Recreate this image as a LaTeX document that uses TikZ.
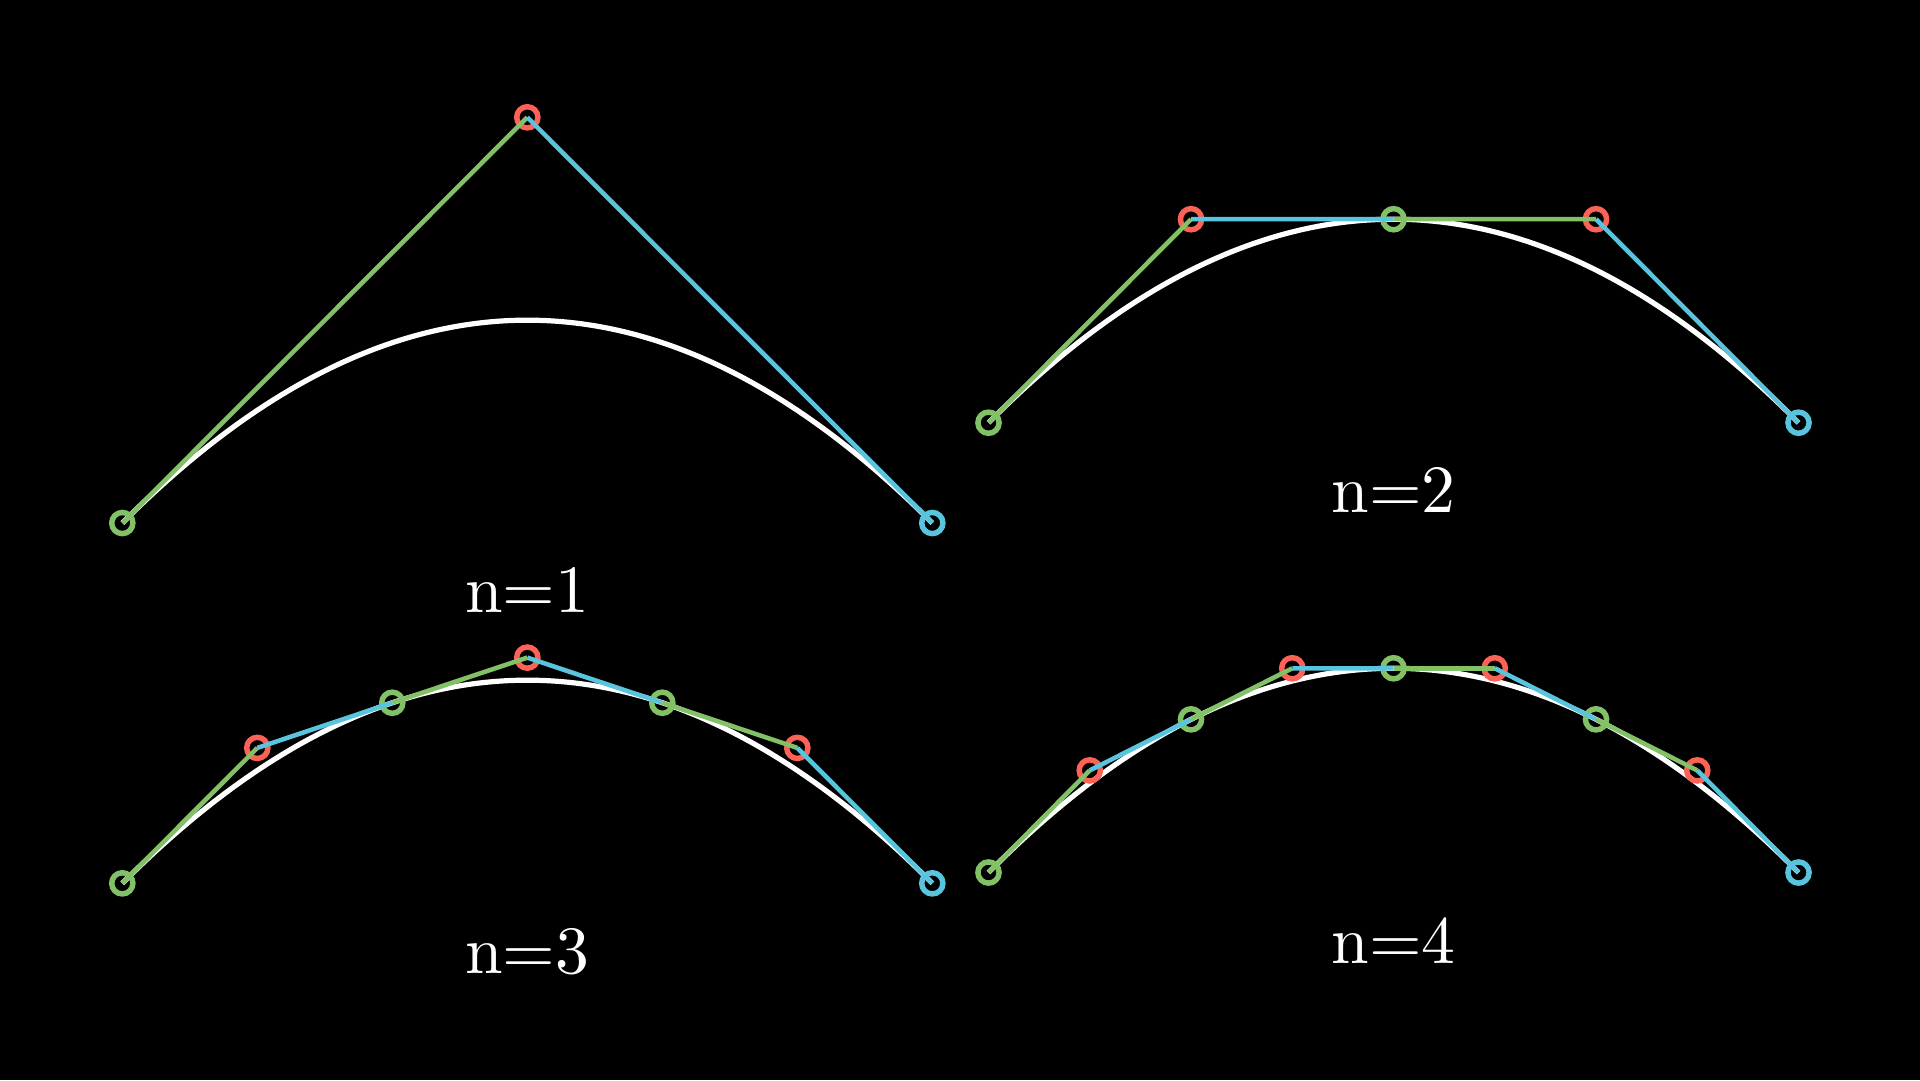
\documentclass[tikz,border=0pt]{standalone}
\usepackage{fontspec}
\usetikzlibrary{calc}
\definecolor{mgreen}{HTML}{83C167}
\definecolor{mblue}{HTML}{58C4DD}
\definecolor{mred}{HTML}{FC6255}
\tikzset{
  curve/.style={draw=white, line width=0.78pt},
  ring/.style={circle, draw=#1, line width=0.82pt, minimum size=3.18pt, inner sep=0pt},
  seggreen/.style={draw=mgreen, line width=0.68pt},
  segblue/.style={draw=mblue, line width=0.68pt},
  lbl/.style={text=white, anchor=base, inner sep=0pt, font=\fontsize{10.15pt}{12pt}\selectfont}
}
\newcommand\bezpanel[6]{%
  % #1 name, #2 P0, #3 control, #4 P2, #5 n, #6 label position
  \coordinate (#1-A) at #2;
  \coordinate (#1-C) at #3;
  \coordinate (#1-B) at #4;
  \coordinate (#1-j0) at (#1-A);
  \foreach \k [evaluate=\k as \a using (\k-1)/#5, evaluate=\k as \b using \k/#5] in {1,...,#5} {
    \coordinate (#1-u\k) at ($(#1-A)!\a!(#1-C)$);
    \coordinate (#1-v\k) at ($(#1-C)!\a!(#1-B)$);
    \coordinate (#1-q\k) at ($(#1-u\k)!\b!(#1-v\k)$);
    \coordinate (#1-s\k) at ($(#1-A)!\b!(#1-C)$);
    \coordinate (#1-t\k) at ($(#1-C)!\b!(#1-B)$);
    \coordinate (#1-j\k) at ($(#1-s\k)!\b!(#1-t\k)$);
  }
  \coordinate (#1-c1) at ($(#1-A)!2/3!(#1-C)$);
  \coordinate (#1-c2) at ($(#1-B)!2/3!(#1-C)$);
  \draw[curve] (#1-A) .. controls (#1-c1) and (#1-c2) .. (#1-B);
  \node[ring=mgreen] (#1-r0) at (#1-A) {};
  \node[ring=mblue] (#1-rend) at (#1-B) {};
  \foreach \k in {1,...,#5} {
    \node[ring=mred] (#1-rq\k) at (#1-q\k) {};
  }
  \ifnum#5>1
    \foreach \k in {2,...,#5} {
      \pgfmathtruncatemacro\p{\k-1}
      \node[ring=mgreen] (#1-rj\p) at (#1-j\p) {};
    }
  \fi
  \foreach \k [evaluate=\k as \p using int(\k-1)] in {1,...,#5} {
    \draw[seggreen] (#1-j\p) -- (#1-q\k);
    \draw[segblue] (#1-q\k) -- (#1-j\k);
  }
  \node[lbl] (#1-label) at #6 {n=#5};
}
\begin{document}
\begin{tikzpicture}[x=0.15pt, y=-0.15pt]
  \fill[black] (0,0) rectangle (1920,1080);
  \useasboundingbox (0,0) rectangle (1920,1080);
  \bezpanel{pa}{(122.3,523)}{(527.3,117.3)}{(932.3,523)}{1}{(527.3,612.7)}
  \bezpanel{pb}{(988.5,422.7)}{(1393.5,15.7)}{(1798.5,422.7)}{2}{(1393.5,512.4)}
  \bezpanel{pc}{(122.3,883.3)}{(527.3,477)}{(932.3,883.3)}{3}{(527.3,973)}
  \bezpanel{pd}{(988.5,872.5)}{(1393.5,464)}{(1798.5,872.5)}{4}{(1393.5,963.4)}
\end{tikzpicture}
\end{document}
